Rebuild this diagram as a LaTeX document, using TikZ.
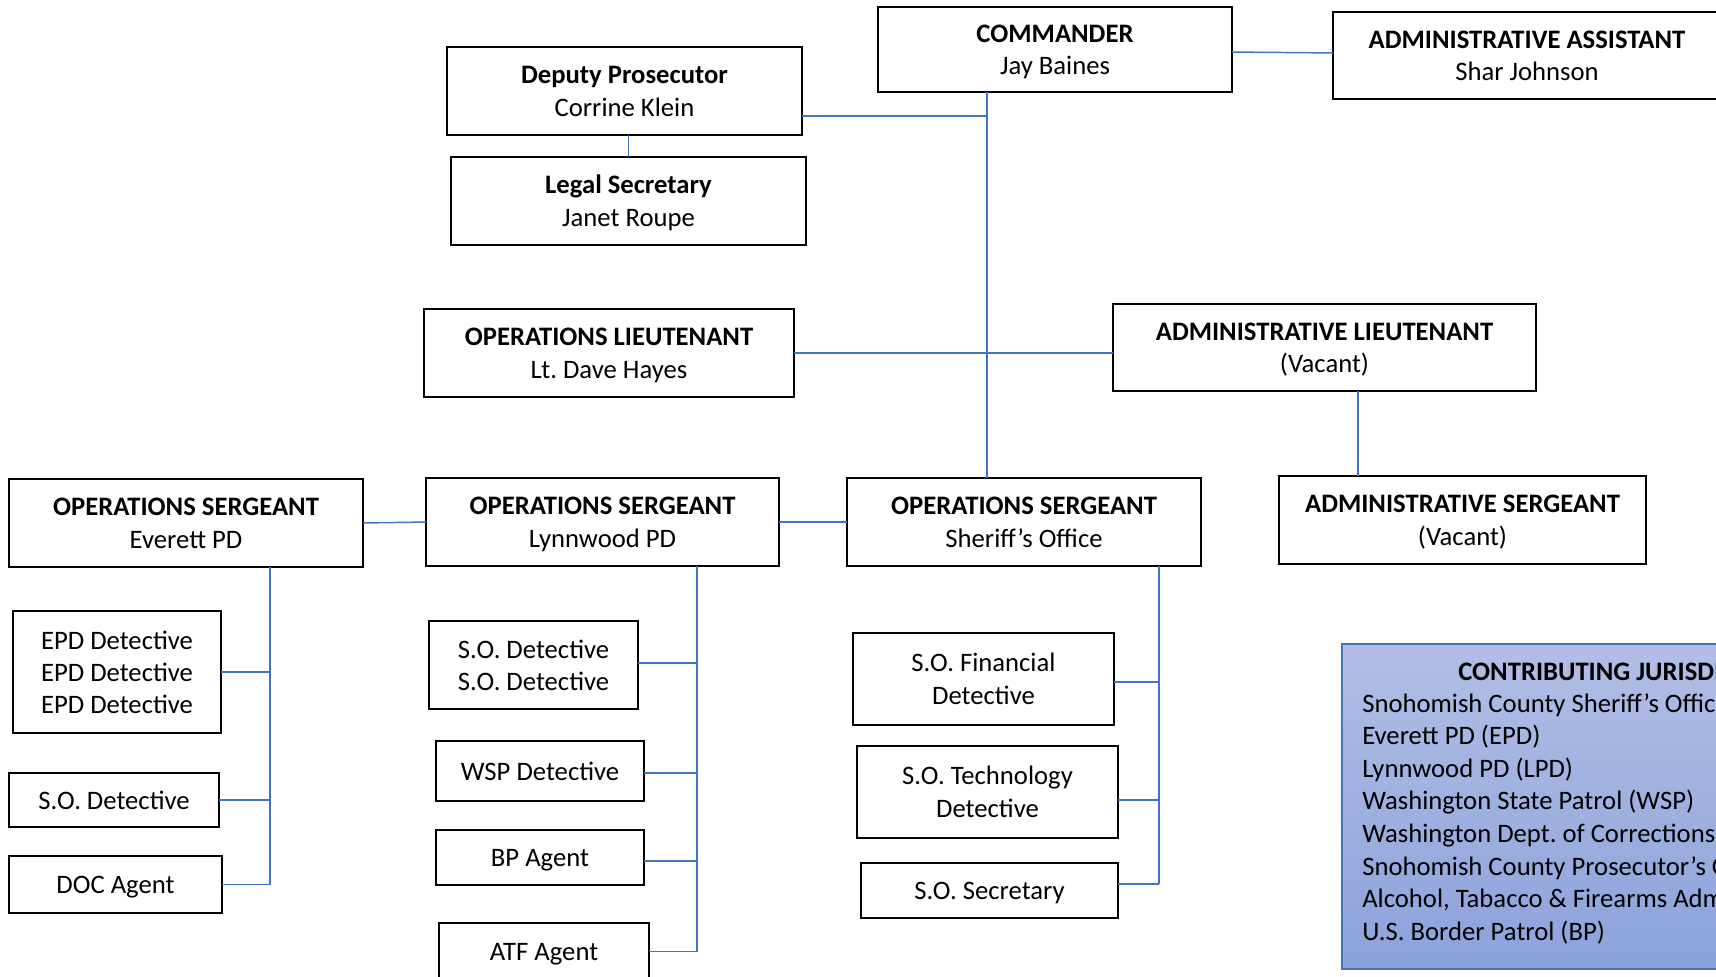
\documentclass[tikz,border=0pt]{standalone}
\usepackage{fontspec}
\setmainfont{Carlito}
\definecolor{linkblue}{RGB}{68,114,196}
\definecolor{boxtop}{RGB}{178,190,229}
\definecolor{boxbot}{RGB}{140,162,219}
% struts for the first and last line of a box
\newcommand{\tst}{\rule{0pt}{18.5pt}}
\newcommand{\bst}{\rule[-5pt]{0pt}{5pt}}
\tikzset{
	postbox/.style = {draw, line width = 2pt, fill = white, inner sep = 0pt, outer sep = 0pt, align = center, font = \fontsize{20}{24.5}\selectfont},
	sz/.style 2 args = {minimum width = #1*0.75pt, minimum height = #2*0.75pt},
	link/.style = {draw = linkblue, line width = 1.1pt},
	listtext/.style = {anchor = base west, inner sep = 0pt, font = \fontsize{20}{24.5}\selectfont}
}
\begin{document}
\begin{tikzpicture}[x = 0.75pt, y = -0.75pt]
	\clip (0, 0) rectangle (1716, 977);
	
	% top of the chart
	\node[postbox, sz = {354}{85}] (cmd) at (1055, 49.5) {\tst\textbf{COMMANDER}\\Jay Baines\bst};
	\node[postbox, sz = {388}{87}] (asst) at (1527, 55.5) {\tst\textbf{ADMINISTRATIVE ASSISTANT}\\Shar Johnson\bst};
	\node[postbox, sz = {355}{88}] (dep) at (624.5, 91) {\tst\textbf{Deputy Prosecutor}\\Corrine Klein\bst};
	\node[postbox, sz = {355}{88}] (legal) at (628.5, 201) {\tst\textbf{Legal Secretary}\\Janet Roupe\bst};
	\node[postbox, sz = {370}{88}] (opslt) at (609, 353) {\tst\textbf{OPERATIONS LIEUTENANT}\\Lt.\ Dave Hayes\bst};
	\node[postbox, sz = {423}{87}] (admlt) at (1324.5, 347.5) {\tst\textbf{ADMINISTRATIVE LIEUTENANT}\\(Vacant)\bst};
	
	% sergeants
	\node[postbox, sz = {354}{88}] (evsgt) at (186, 523) {\tst\textbf{OPERATIONS SERGEANT}\\Everett PD\bst};
	\node[postbox, sz = {353}{88}] (lysgt) at (602.5, 522) {\tst\textbf{OPERATIONS SERGEANT}\\Lynnwood PD\bst};
	\node[postbox, sz = {354}{88}] (sosgt) at (1024, 522) {\tst\textbf{OPERATIONS SERGEANT}\\Sheriff’s Office\bst};
	\node[postbox, sz = {367}{88}] (admsgt) at (1462.5, 520) {\tst\textbf{ADMINISTRATIVE SERGEANT}\\(Vacant)\bst};
	
	% Everett PD team
	\node[postbox, sz = {208}{122}, font = \fontsize{20}{24}\selectfont] (epd) at (117, 672) {\tst EPD Detective\\EPD Detective\\EPD Detective\bst};
	\node[postbox, sz = {210}{54}] (evso) at (114, 800) {\tst S.O. Detective\bst};
	\node[postbox, sz = {213}{57}] (doc) at (115.5, 884.5) {\tst DOC Agent\bst};
	
	% Lynnwood PD team
	\node[postbox, sz = {209}{88}, font = \fontsize{20}{24}\selectfont] (lyso) at (533.5, 665) {\tst S.O. Detective\\S.O. Detective\bst};
	\node[postbox, sz = {208}{60}] (wsp) at (540, 771) {\tst WSP Detective\bst};
	\node[postbox, sz = {208}{55}] (bp) at (540, 857.5) {\tst BP Agent\bst};
	\node[postbox, sz = {210}{57}] (atf) at (544, 951.5) {\tst ATF Agent\bst};
	
	% Sheriff's Office team
	\node[postbox, sz = {261}{92}] (fin) at (983.5, 679) {\tst S.O. Financial\\Detective\bst};
	\node[postbox, sz = {261}{92}] (tech) at (987.5, 792) {\tst S.O. Technology\\Detective\bst};
	\node[postbox, sz = {257}{55}] (sec) at (989.5, 890.5) {\tst S.O. Secretary\bst};
	
	% vertical lines
	\coordinate (spine) at (987, 0);
	\coordinate (admlink) at (1358, 0);
	\coordinate (evbus) at (270, 0);
	\coordinate (lybus) at (697, 0);
	\coordinate (sobus) at (1159, 0);
	
	\draw[link] (cmd.south -| spine) -- (sosgt.north -| spine);
	\draw[link] ([yshift = -18.75pt]dep.east) -- ([yshift = -18.75pt]dep.east -| spine);
	\draw[link] ([yshift = -1.9pt]cmd.east) -- ([yshift = 1.9pt]asst.west);
	\draw[link] (legal.north) -- (legal.north |- dep.south);
	\draw[link] (opslt.east) -- (opslt.east -| admlt.west);
	\draw[link] (admlt.south -| admlink) -- (admsgt.north -| admlink);
	\draw[link] (evsgt.east) -- (lysgt.west);
	\draw[link] (lysgt.east) -- (sosgt.west);
	
	% branches, shifted down by \dy pixels
	\draw[link] (evsgt.south -| evbus) -- (doc.east -| evbus);
	\foreach \n in {epd, evso, doc} {
		\draw[link] (\n.east) -- (\n.east -| evbus);
	}
	\draw[link] (lysgt.south -| lybus) -- (atf.east -| lybus);
	\foreach \n/\dy in {lyso/-2, wsp/2, bp/3.5, atf/0} {
		\draw[link] ([yshift = {-(\dy)*0.75pt}]\n.east) -- ([yshift = {-(\dy)*0.75pt}]\n.east -| lybus);
	}
	\draw[link] (sosgt.south -| sobus) -- ([yshift = 4.9pt]sec.east -| sobus);
	\foreach \n/\dy in {fin/3, tech/8, sec/-6.5} {
		\draw[link] ([yshift = {-(\dy)*0.75pt}]\n.east) -- ([yshift = {-(\dy)*0.75pt}]\n.east -| sobus);
	}
	
	% contributing jurisdictions
	\draw[draw = linkblue, line width = 1.2pt, top color = boxtop, bottom color = boxbot] (1342, 644) rectangle (1830, 969);
	\node[listtext] (contrib) at (1458, 680) {\textbf{CONTRIBUTING JURISDICTIONS}};
	\foreach \txt [count = \i from 0] in {Snohomish County Sheriff’s Office, Everett PD (EPD), Lynnwood PD (LPD), Washington State Patrol (WSP), Washington Dept.\ of Corrections (DOC), Snohomish County Prosecutor’s Office, {Alcohol, Tabacco \& Firearms Administration}, U.S. Border Patrol (BP)} {
		\node[listtext] at (1362, 712 + 32.6*\i) {\txt};
	}
\end{tikzpicture}
\end{document}
